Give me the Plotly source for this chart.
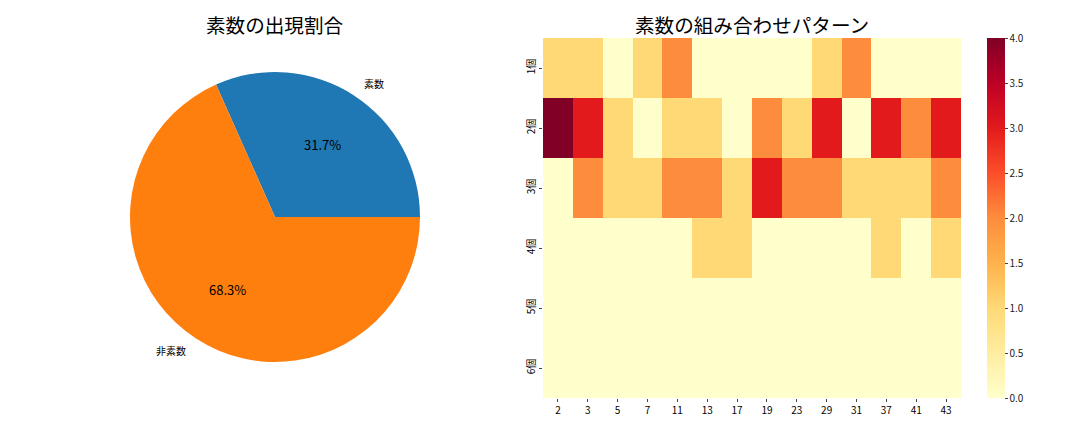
import numpy as np
import plotly.graph_objects as go

# ---- data ----
pie_labels = ["素数", "非素数"]
pie_values = [19, 41]
pie_colors = ["#1f77b4", "#ff7f0e"]

primes = ["2", "3", "5", "7", "11", "13", "17", "19", "23", "29", "31", "37", "41", "43"]
counts = ["1個", "2個", "3個", "4個", "5個", "6個"]
row1 = [1, 1, 0, 1, 2, 0, 0, 0, 0, 1, 2, 0, 0, 0]
row2 = [4, 3, 1, 0, 1, 1, 0, 2, 1, 3, 0, 3, 2, 3]
row3 = [0, 2, 1, 1, 2, 2, 1, 3, 2, 2, 1, 1, 1, 2]
row4 = [0, 0, 0, 0, 0, 1, 1, 0, 0, 0, 0, 1, 0, 1]
row5 = [0] * 14
row6 = [0] * 14
cbar_ticks = [0.0, 0.5, 1.0, 1.5, 2.0, 2.5, 3.0, 3.5, 4.0]

W, H = 1080, 432
FONT = "Noto Sans CJK JP"
ylorrd = ["#ffffcc", "#ffeda0", "#fed976", "#feb24c", "#fd8d3c",
          "#fc4e2a", "#e31a1c", "#bd0026", "#800026"]

# pie geometry (pixels)
cx, cy, r = 275, 217, 145

vals = np.array(pie_values, dtype=float)
frac = vals / vals.sum()

fig = go.Figure()
fig.add_trace(go.Pie(
    labels=pie_labels, values=pie_values, marker=dict(colors=pie_colors),
    sort=False, direction="clockwise", rotation=90 - frac[0] * 360,
    textinfo="none", hoverinfo="label+percent", showlegend=False,
    domain=dict(x=[(cx - r) / W, (cx + r) / W], y=[1 - (cy + r) / H, 1 - (cy - r) / H]),
))

z = [row1, row2, row3, row4, row5, row6]
fig.add_trace(go.Heatmap(
    z=z, x=primes, y=counts, zmin=0, zmax=4,
    colorscale=[[i / 8, c] for i, c in enumerate(ylorrd)],
    xgap=0, ygap=0,
    colorbar=dict(
        x=987 / W, xanchor="left", y=1 - 218 / H, yanchor="middle",
        len=360, lenmode="pixels", thickness=18, thicknessmode="pixels",
        outlinewidth=0, tickvals=cbar_ticks, ticktext=[f"{v:.1f}" for v in cbar_ticks],
        ticks="outside", ticklen=3, tickfont=dict(size=10, family=FONT, color="#222"),
        xpad=0, ypad=0,
    ),
))

annotations = []
start = 0.0
for lab, f in zip(pie_labels, frac):
    mid = np.deg2rad(start + f * 360.0 / 2)
    start += f * 360.0
    lx = cx + 1.1 * r * np.cos(mid)
    ly = cy - 1.1 * r * np.sin(mid)
    annotations.append(dict(
        x=lx / W, y=1 - ly / H, xref="paper", yref="paper", text=lab, showarrow=False,
        xanchor="left" if np.cos(mid) > 0 else "right", yanchor="middle",
        font=dict(size=10, family=FONT, color="black"),
    ))
    px_ = cx + 0.6 * r * np.cos(mid)
    py_ = cy - 0.6 * r * np.sin(mid)
    annotations.append(dict(
        x=px_ / W, y=1 - py_ / H, xref="paper", yref="paper", text=f"{f * 100:.1f}%",
        showarrow=False, xanchor="center", yanchor="middle",
        font=dict(size=13, family=FONT, color="black"),
    ))

annotations.append(dict(x=cx / W, y=1 - 25 / H, xref="paper", yref="paper",
                        text="素数の出現割合", showarrow=False, xanchor="center", yanchor="middle",
                        font=dict(size=19.6, family=FONT, color="black")))
annotations.append(dict(x=752 / W, y=1 - 25 / H, xref="paper", yref="paper",
                        text="素数の組み合わせパターン", showarrow=False, xanchor="center", yanchor="middle",
                        font=dict(size=19.6, family=FONT, color="black")))

fig.update_layout(
    width=W, height=H, margin=dict(l=0, r=0, t=0, b=0),
    paper_bgcolor="white", plot_bgcolor="white",
    font=dict(family=FONT, color="black"),
    annotations=annotations,
    xaxis=dict(domain=[543 / W, 961 / W], type="category", ticks="outside", ticklen=3,
               tickfont=dict(size=10, family=FONT), showgrid=False, zeroline=False, showline=False),
    yaxis=dict(domain=[1 - 398 / H, 1 - 38 / H], type="category", autorange="reversed",
               ticks="outside", ticklen=3, tickangle=-90,
               tickfont=dict(size=10, family=FONT), showgrid=False, zeroline=False, showline=False),
)

fig.write_html("out.html")
